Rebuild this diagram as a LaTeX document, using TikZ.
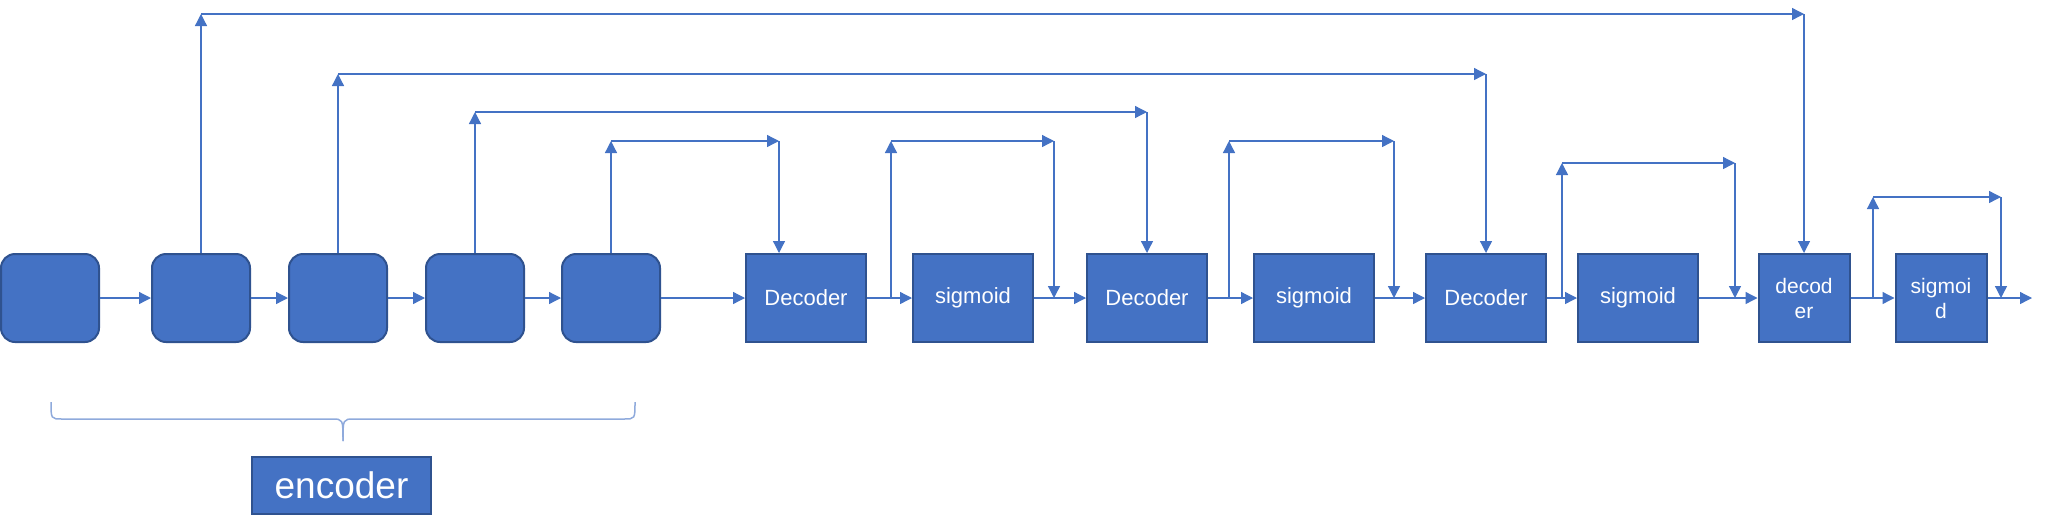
\documentclass[tikz,border=0pt]{standalone}
\usepackage{fontspec}
\setmainfont{Liberation Sans}
\usepackage{tikz}
\usetikzlibrary{arrows.meta}

\definecolor{boxblue}{HTML}{4472C4}
\definecolor{boxedge}{HTML}{2F528F}
\definecolor{bracecol}{HTML}{8FAADC}

\begin{document}
\begin{tikzpicture}[
            x=1pt, y=-1pt,
            enc/.style={rectangle, rounded corners=14pt, draw=boxedge, fill=boxblue, line width=2pt, minimum width=98pt, minimum height=88pt},
            blk/.style={rectangle, draw=boxedge, fill=boxblue, line width=2pt, minimum width=120pt, minimum height=88pt, inner sep=0pt, text=white, font=\fontsize{22}{26}\selectfont},
            narrow/.style={blk, minimum width=91pt, align=center, font=\fontsize{21}{25}\selectfont},
            arr/.style={draw=boxblue, line width=1.3pt, -{Triangle[length=12pt,width=12pt]}},
            brc/.style={draw=bracecol, line width=1.5pt}
        ]
        \useasboundingbox (0,0) rectangle (2046,531);
        % encoder
        \node[enc] (e1) at (50,298)  {};
        \node[enc] (e2) at (201,298) {};
        \node[enc] (e3) at (338,298) {};
        \node[enc] (e4) at (475,298) {};
        \node[enc] (e5) at (611,298) {};
        % decoder
        \node[blk] (dec1) at (806,298)  {Decoder};
        \node[blk] (sig1) at (973,298)  {sigmoid};
        \node[blk] (dec2) at (1147,298) {Decoder};
        \node[blk] (sig2) at (1314,298) {sigmoid};
        \node[blk] (dec3) at (1486,298) {Decoder};
        \node[blk] (sig3) at (1638,298) {sigmoid};
        \node[narrow] (dec4) at (1804,298) {decod\\er};
        \node[narrow] (sig4) at (1941,298) {sigmoi\\d};
        \coordinate (out) at (2032,298);
        % chain
        \draw[arr] (e1) -- (e2);
        \draw[arr] (e2) -- (e3);
        \draw[arr] (e3) -- (e4);
        \draw[arr] (e4) -- (e5);
        \draw[arr] (e5) -- (dec1);
        \draw[arr] (dec1) -- (sig1);
        \draw[arr] (sig1) -- (dec2);
        \draw[arr] (dec2) -- (sig2);
        \draw[arr] (sig2) -- (dec3);
        \draw[arr] (dec3) -- (sig3);
        \draw[arr] (sig3) -- (dec4);
        \draw[arr] (dec4) -- (sig4);
        \draw[arr] (sig4) -- (out);
        % encoder skips
        \coordinate (a2) at (e2.north |- 0,14);
        \coordinate (b2) at (dec4.north |- a2);
        \draw[arr] (e2.north) -- (a2);
        \draw[arr] (a2) -- (b2);
        \draw[arr] (b2) -- (dec4.north);
        \coordinate (a3) at (e3.north |- 0,74);
        \coordinate (b3) at (dec3.north |- a3);
        \draw[arr] (e3.north) -- (a3);
        \draw[arr] (a3) -- (b3);
        \draw[arr] (b3) -- (dec3.north);
        \coordinate (a4) at (e4.north |- 0,112);
        \coordinate (b4) at (dec2.north |- a4);
        \draw[arr] (e4.north) -- (a4);
        \draw[arr] (a4) -- (b4);
        \draw[arr] (b4) -- (dec2.north);
        \coordinate (a5) at (e5.north |- 0,141);
        \coordinate (b5) at (779,141);
        \draw[arr] (e5.north) -- (a5);
        \draw[arr] (a5) -- (b5);
        \draw[arr] (b5) -- (b5 |- dec1.north);
        % decoder skips
        \coordinate (p1) at (891,298);  \coordinate (q1) at (891,141);
        \coordinate (r1) at (1054,141); \coordinate (s1) at (1054,298);
        \draw[arr] (p1) -- (q1);
        \draw[arr] (q1) -- (r1);
        \draw[arr] (r1) -- (s1);
        \coordinate (p2) at (1229,298); \coordinate (q2) at (1229,141);
        \coordinate (r2) at (1394,141); \coordinate (s2) at (1394,298);
        \draw[arr] (p2) -- (q2);
        \draw[arr] (q2) -- (r2);
        \draw[arr] (r2) -- (s2);
        \coordinate (p3) at (1562,298); \coordinate (q3) at (1562,163);
        \coordinate (r3) at (1735,163); \coordinate (s3) at (1735,298);
        \draw[arr] (p3) -- (q3);
        \draw[arr] (q3) -- (r3);
        \draw[arr] (r3) -- (s3);
        \coordinate (p4) at (1873,298); \coordinate (q4) at (1873,197);
        \coordinate (r4) at (2001,197); \coordinate (s4) at (2001,298);
        \draw[arr] (p4) -- (q4);
        \draw[arr] (q4) -- (r4);
        \draw[arr] (r4) -- (s4);
        % brace and label
        \draw[brc] (51,402) .. controls (51,419) .. (62,419) -- (332,419) .. controls (343,419) .. (343,441);
        \draw[brc] (635,402) .. controls (635,419) .. (624,419) -- (354,419) .. controls (343,419) .. (343,441);
        \node[blk, minimum width=179pt, minimum height=57pt, font=\fontsize{37}{40}\selectfont] (enclbl) at (341.5,485.5) {encoder};
    \end{tikzpicture}
\end{document}
